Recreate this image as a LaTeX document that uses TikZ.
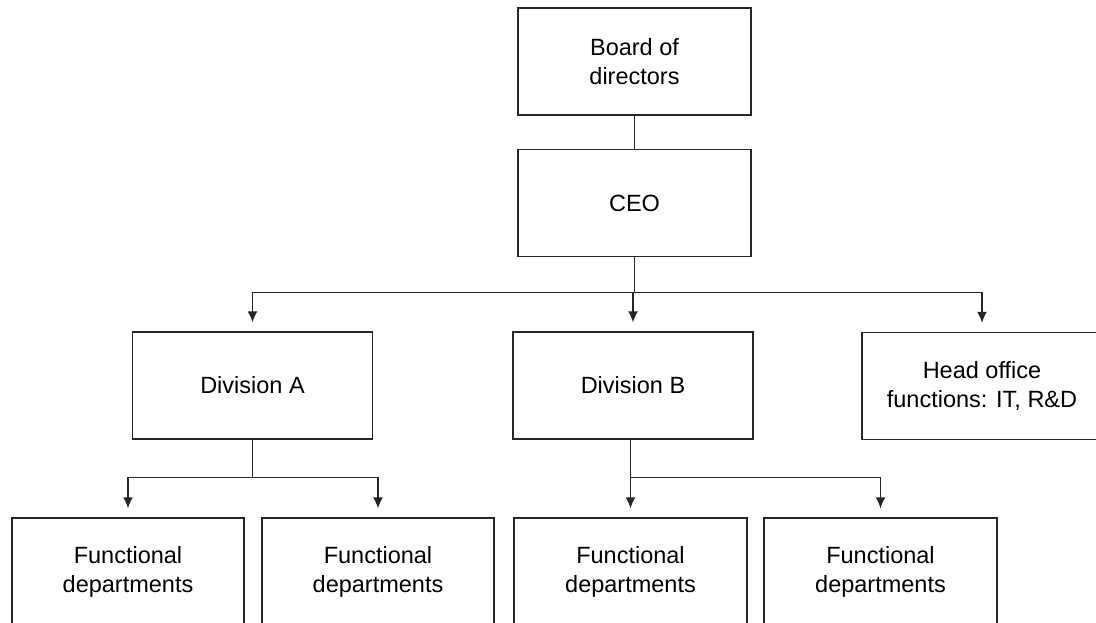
\documentclass[tikz,border=0pt]{standalone}
\usepackage{fontspec}
\setmainfont{Liberation Sans}
\usetikzlibrary{arrows.meta}
\tikzset{
	unit/.style={draw=black!85,line width=1.4pt,align=center,inner sep=0pt,
		minimum width=233pt,minimum height=107pt,font=\fontsize{23.5}{29}\selectfont},
	wide/.style={unit,minimum width=240pt},
	link/.style={draw=black!85,line width=1.4pt},
	arr/.style={link,-{Latex[length=11pt,width=10pt]},shorten >=9pt}
}
\begin{document}
\begin{tikzpicture}[x=1pt,y=-1pt]
		\useasboundingbox (0,0) rectangle (1096,623);
		% Top of the chart: board and chief executive
		\node [unit] (board) at (634.5,61.5) {Board of\\directors};
		\node [unit] (ceo) at (634.5,203) {CEO};
		% Second level: the two divisions and the head office
		\node [wide] (divA) at (252.5,385.5) {Division A};
		\node [wide] (divB) at (633,385.5) {Division B};
		\node [wide] (head) at (982,386) {Head office\\functions: IT, R\&D};
		% Third level: functional departments below each division
		\node [unit,minimum width=232pt] (fdA1) at (128,571.5) {Functional\\departments};
		\node [unit,minimum width=232pt] (fdA2) at (378,571.5) {Functional\\departments};
		\node [unit] (fdB1) at (630.5,571.5) {Functional\\departments};
		\node [unit] (fdB2) at (880.5,571.5) {Functional\\departments};
		% Board to CEO is a plain line
		\draw [link] (board) -- (ceo);
		% CEO splits into three arrows over a common bar
		\draw [link] (ceo.south) -- ++(0,35) coordinate (jC);
		\draw [arr] (jC) -| (divA.north);
		\draw [arr] (jC) -- (jC -| divB.north) -- (divB.north);
		\draw [arr] (jC) -| (head.north);
		% Division A splits into its two departments
		\draw [link] (divA.south) -- ++(0,38) coordinate (jA);
		\draw [arr] (jA) -| (fdA1.north);
		\draw [arr] (jA) -| (fdA2.north);
		% Division B feeds its departments from the left end of the bar
		\draw [link] (divB.south -| fdB1.north) -- ++(0,38) coordinate (jB);
		\draw [arr] (jB) -- (fdB1.north);
		\draw [arr] (jB) -| (fdB2.north);
		\end{tikzpicture}
\end{document}
